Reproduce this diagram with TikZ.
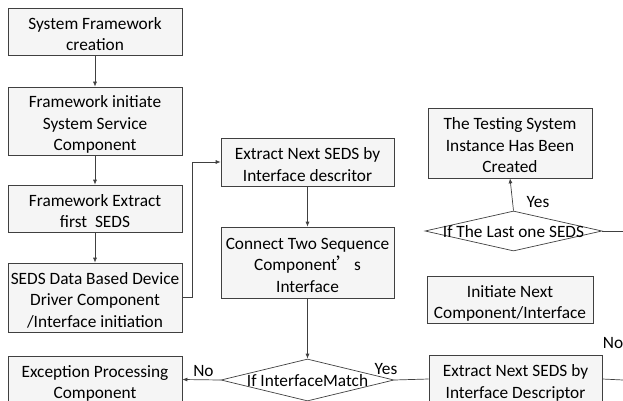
\documentclass[tikz,border=0pt]{standalone}
\usepackage{fontspec}
\setmainfont{Carlito}
\newfontfamily\cjk{Noto Sans CJK SC}
\usetikzlibrary{shapes.geometric,arrows.meta,shadows}
\newcommand{\boxtext}[1]{\raisebox{-4pt}[\height][\depth]{\begin{tabular}{@{}c@{}}#1\end{tabular}}}
\begin{document}
\begin{tikzpicture}[x=1pt,y=-1pt,
  font=\fontsize{17.3}{21.5}\selectfont,
  flowbox/.style={draw=black!75,line width=0.7pt,fill=black!4,inner sep=0pt,
    drop shadow={shadow xshift=1pt,shadow yshift=-1pt,fill=black!35,opacity=0.6}},
  decision/.style={diamond,draw=black!75,line width=0.7pt,fill=white,inner sep=0pt},
  conn/.style={draw=black!75,line width=0.7pt},
  arr/.style={conn,-{Latex[length=5pt,width=4pt]}},
  lbl/.style={inner sep=0pt}]
\useasboundingbox (0,0) rectangle (623,401);
\node[flowbox,minimum width=174pt,minimum height=47pt] (b1) at (95,31.5) {\boxtext{System Framework\\creation}};
\node[flowbox,minimum width=174pt,minimum height=68pt] (b2) at (95,121) {\boxtext{Framework initiate\\System Service\\Component}};
\node[flowbox,minimum width=174pt,minimum height=47pt] (b3) at (95,208.5) {\boxtext{Framework Extract\\first\ \ SEDS}};
\node[flowbox,minimum width=174pt,minimum height=69pt] (b4) at (95,297.5) {\boxtext{SEDS Data Based Device\\Driver Component\\/Interface initiation}};
\node[flowbox,minimum width=174pt,minimum height=47pt] (b5) at (95,379.5) {\boxtext{Exception Processing\\Component}};
\node[flowbox,minimum width=173pt,minimum height=48pt] (b6) at (307.5,162) {\boxtext{Extract Next SEDS by\\Interface descritor}};
\node[flowbox,minimum width=173pt,minimum height=71pt] (b7) at (307.5,262.5) {\boxtext{Connect Two Sequence\\Component{\cjk ’}s\\Interface}};
\node[decision,minimum width=173pt,minimum height=42pt,shape aspect=4.1] (d1) at (307.5,380) {};
\node[lbl] at (307.5,381) {If InterfaceMatch};
\node[flowbox,minimum width=173pt,minimum height=48pt] (b8) at (515.5,379) {\boxtext{Extract Next SEDS by\\Interface Descriptor}};
\node[flowbox,minimum width=164pt,minimum height=70pt] (b9) at (510,143) {\boxtext{The Testing System\\Instance Has Been\\Created}};
\node[decision,minimum width=177pt,minimum height=40pt,shape aspect=4.4] (d2) at (513.5,231) {};
\node[lbl] at (513.5,232) {If The Last one SEDS};
\node[flowbox,minimum width=166pt,minimum height=47pt] (b10) at (510,299.5) {\boxtext{Initiate Next\\Component/Interface}};
\coordinate (e1) at (623,380);
\coordinate (e2) at (623,231);
\coordinate (j1) at (192,297.5);
\draw[arr] (b1.south) -- (b2.north);
\draw[arr] (b2.south) -- (b3.north);
\draw[arr] (b3.south) -- (b4.north);
\draw[arr] (b4.east) -- (j1) |- (b6.west);
\draw[arr] (b6.south) -- (b7.north);
\draw[arr] (b7.south) -- (d1.north);
\draw[arr] (d1.west) -- node[lbl,above=3pt,pos=0.45] {No} (b5.east);
\draw[conn] (d1.east) -- (b8.west);
\node[lbl] at (386,369) {Yes};
\draw[conn] (b8.east) -- (e1);
\draw[arr] (d2.north) -- (b9.south);
\node[lbl] at (538,202) {Yes};
\draw[conn] (d2.east) -- (e2);
\node[lbl] at (613,343) {No};
\end{tikzpicture}
\end{document}
